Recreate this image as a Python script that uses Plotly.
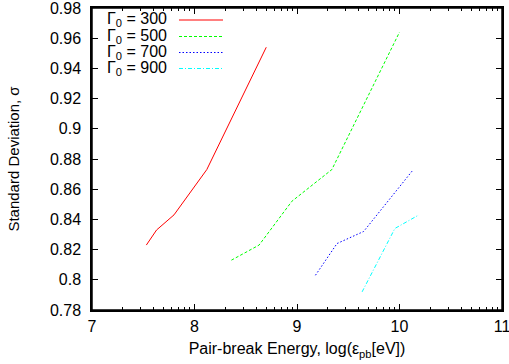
import numpy as np
import plotly.graph_objects as go

# Data
x_300 = [7.53, 7.63, 7.80, 8.12, 8.70]
y_300 = [0.823, 0.833, 0.843, 0.873, 0.954]
x_500 = [8.36, 8.63, 8.95, 9.34, 10.0]
y_500 = [0.813, 0.823, 0.852, 0.873, 0.964]
x_700 = [9.18, 9.39, 9.65, 10.135]
y_700 = [0.803, 0.824, 0.832, 0.873]
x_900 = [9.635, 9.955, 10.19]
y_900 = [0.792, 0.834, 0.843]

labels = ["Γ<sub>0</sub> = 300", "Γ<sub>0</sub> = 500", "Γ<sub>0</sub> = 700", "Γ<sub>0</sub> = 900"]
xs = [x_300, x_500, x_700, x_900]
ys = [y_300, y_500, y_700, y_900]
colors = ["#ff0000", "#00ff00", "#0000ff", "#00ffff"]
dashes = ["solid", "3px,2px", "1.5px,2px", "4px,2px,1px,2px"]

x_major = [7, 8, 9, 10, 11]
y_major = [0.78, 0.80, 0.82, 0.84, 0.86, 0.88, 0.90, 0.92, 0.94, 0.96, 0.98]
y_ticktext = ["0.78", "0.8", "0.82", "0.84", "0.86", "0.88", "0.9", "0.92", "0.94", "0.96", "0.98"]
x_minor = [k + np.log10(m) for k in range(7, 11) for m in range(2, 10)]

FONT = "Liberation Sans, Arial, sans-serif"

fig = go.Figure()
for xv, yv, c, d, lab in zip(xs, ys, colors, dashes, labels):
    fig.add_trace(go.Scatter(x=xv, y=yv, mode="lines", name=lab,
                             line=dict(color=c, width=1, dash=d), showlegend=False))

W, H = 509, 364
ml, mr, mt, mb = 92, 7, 8, 54
pw, ph = W - ml - mr, H - mt - mb

# manual legend (text left, line sample right), as in the reference
leg_y = [20, 36.5, 52.5, 68.5]
for i, (lab, c, d) in enumerate(zip(labels, colors, dashes)):
    yp = 1 - (leg_y[i] - mt) / ph
    fig.add_annotation(x=(169 - ml) / pw, y=yp, xref="paper", yref="paper",
                       text=lab, showarrow=False, xanchor="right", yanchor="middle",
                       font=dict(family=FONT, size=16, color="black"))
    fig.add_shape(type="line", xref="paper", yref="paper",
                  x0=(179 - ml) / pw, x1=(223 - ml) / pw, y0=yp, y1=yp,
                  line=dict(color=c, width=1, dash=d))

# plot frame (backup for the mirrored axis lines)
fig.add_shape(type="rect", xref="paper", yref="paper", x0=0, x1=1, y0=0, y1=1,
              line=dict(color="black", width=1.5), layer="above")

axis_common = dict(showline=True, linecolor="black", linewidth=1.5, mirror="ticks",
                   ticks="inside", ticklen=6, tickcolor="black", tickwidth=1,
                   showgrid=False, zeroline=False, automargin=False,
                   ticklabeloverflow="allow")

fig.update_layout(
    width=W, height=H, autosize=False,
    margin=dict(l=ml, r=mr, t=mt, b=mb, pad=0, autoexpand=False),
    paper_bgcolor="white", plot_bgcolor="white",
    font=dict(family=FONT, size=15, color="black"),
    xaxis=dict(range=[7, 11], tickmode="array", tickvals=x_major,
               ticktext=[str(v) for v in x_major],
               minor=dict(tickmode="array", tickvals=x_minor, ticks="inside",
                          ticklen=3, tickcolor="black", tickwidth=1, showgrid=False),
               ticklabelstandoff=1,
               title=dict(text="Pair-break Energy, log(ε<sub>pb</sub>[eV])",
                          font=dict(size=16), standoff=9),
               tickfont=dict(size=16), **axis_common),
    yaxis=dict(range=[0.78, 0.98], tickmode="array", tickvals=y_major,
               ticktext=y_ticktext,
               ticklabelstandoff=6,
               title=dict(text="Standard Deviation, σ", font=dict(size=15), standoff=27),
               tickfont=dict(size=16), **axis_common),
)

post = ("var gd=document.getElementById('{plot_id}');"
        "gd.style.position='absolute';gd.style.left='0px';gd.style.top='0px';")
fig.write_html("out.html", config={"displayModeBar": False}, post_script=post)
